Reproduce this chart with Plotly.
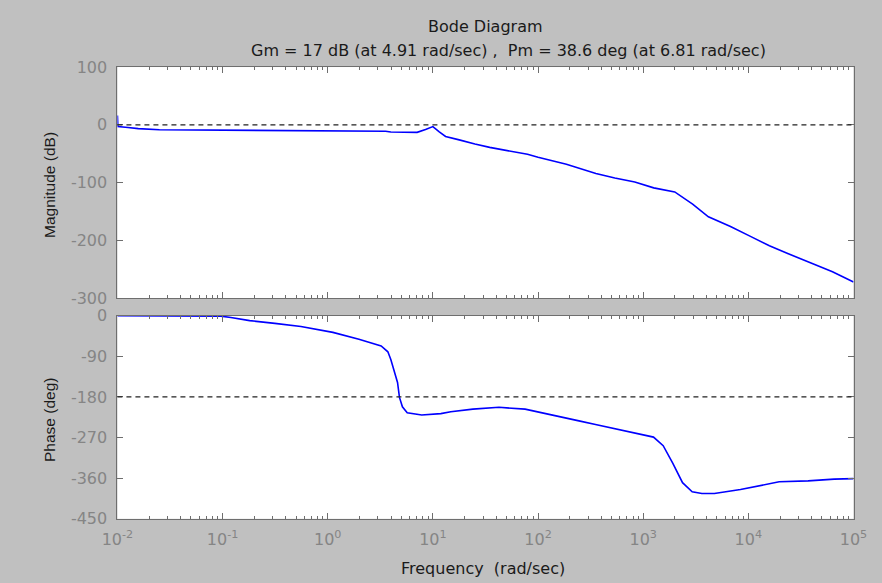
import plotly.graph_objects as go

W, H = 882, 583

# ---- data ----
mag_freq = [0.01, 0.0101, 0.0126, 0.0158, 0.0251, 0.1, 1.0, 3.55, 3.98, 7.08, 8.51, 10.0,
            11.5, 13.2, 17.8, 22.4, 25.1, 34.7, 52.5, 79.4, 100, 186, 355, 537, 832, 1259,
            1995, 2951, 4169, 6761, 10471, 15849, 23988, 37154, 63096, 100000]
mag_db = [16, -3, -4.5, -6.5, -8.5, -9, -9.5, -11, -12.5, -13, -8, -3,
          -12, -20, -26, -30, -33, -39, -44.5, -51, -56, -68, -84, -92, -99, -109,
          -116, -137, -159, -176, -193, -209, -223, -237, -254, -272]

ph_freq = [0.01, 0.096, 0.12, 0.181, 0.314, 0.556, 1.12, 1.98, 3.22, 3.73, 3.98, 4.61, 4.81,
           5.13, 5.70, 7.83, 11.9, 14.8, 24.0, 42.5, 75.3, 122, 245, 352, 708, 1253,
           1549, 1914, 2366, 2924, 3614, 4753, 8414, 19634, 36983, 65464, 100000]
ph_deg = [0, -1, -4, -11, -17, -24, -37, -52, -67, -80, -97, -148, -181,
          -202, -215, -220, -217, -213, -207, -203, -207, -217, -233, -241, -256, -269,
          -288, -327, -370, -390, -394, -394, -385, -368, -366, -362, -361]

x_tickvals = [1e-2, 1e-1, 1e0, 1e1, 1e2, 1e3, 1e4, 1e5]
x_ticktext = ["10<sup>-2</sup>", "10<sup>-1</sup>", "10<sup>0</sup>", "10<sup>1</sup>",
              "10<sup>2</sup>", "10<sup>3</sup>", "10<sup>4</sup>", "10<sup>5</sup>"]
mag_tickvals = [100, 0, -100, -200, -300]
mag_ticktext = ["100", "0", "-100", "-200", "-300"]
ph_tickvals = [0, -90, -180, -270, -360, -450]
ph_ticktext = ["0", "-90", "-180", "-270", "-360", "-450"]

title1 = "Bode Diagram"
title2 = "Gm = 17 dB (at 4.91 rad/sec) ,  Pm = 38.6 deg (at 6.81 rad/sec)"

def px(x):
    return x / W

def py(y):
    return (H - y) / H

minor_vals = [k * 10 ** e for e in range(-2, 5) for k in range(2, 10)]

tick_font = dict(family="DejaVu Sans", size=16, color="#858585")
line_col = "#6e6e6e"

common_x = dict(type="log", range=[-2, 5], domain=[px(105), px(867)],
                showgrid=False, zeroline=False, showline=True, linecolor=line_col,
                linewidth=1, mirror="allticks", ticks="inside", ticklen=6,
                tickcolor=line_col, tickvals=x_tickvals,
                minor=dict(ticks="inside", ticklen=3, tickcolor=line_col,
                           tickvals=minor_vals, showgrid=False))
common_y = dict(showgrid=False, zeroline=False, showline=True, linecolor=line_col,
                linewidth=1, mirror="allticks", ticks="inside", ticklen=6,
                tickcolor=line_col, tickfont=tick_font, ticklabelstandoff=6)

fig = go.Figure()
fig.add_trace(go.Scatter(x=mag_freq, y=mag_db, mode="lines",
                         line=dict(color="#0000ff", width=1.6),
                         xaxis="x", yaxis="y", showlegend=False))
fig.add_trace(go.Scatter(x=ph_freq, y=ph_deg, mode="lines",
                         line=dict(color="#0000ff", width=1.6),
                         xaxis="x2", yaxis="y2", showlegend=False))

fig.update_layout(
    width=W, height=H,
    margin=dict(l=0, r=0, t=0, b=0),
    paper_bgcolor="#c0c0c0",
    plot_bgcolor="#ffffff",
    showlegend=False,
    xaxis=dict(common_x, anchor="y", showticklabels=False),
    xaxis2=dict(common_x, anchor="y2", ticktext=x_ticktext, tickfont=tick_font,
                ticklabelstandoff=6),
    yaxis=dict(common_y, anchor="x", domain=[py(299), py(60)], range=[-300, 100],
               tickvals=mag_tickvals, ticktext=mag_ticktext),
    yaxis2=dict(common_y, anchor="x2", domain=[py(527), py(317)], range=[-450, 0],
                tickvals=ph_tickvals, ticktext=ph_ticktext),
)

dash_style = dict(color="#222222", width=1.2, dash="5px,4px")
fig.add_shape(type="line", xref="x domain", yref="y", x0=0, x1=1, y0=0, y1=0, line=dash_style)
fig.add_shape(type="line", xref="x2 domain", yref="y2", x0=0, x1=1, y0=-180, y1=-180, line=dash_style)

h_font = dict(family="DejaVu Sans", size=16, color="#1a1a1a")
v_font = dict(family="Liberation Sans, Arial", size=15.5, color="#1a1a1a")
fig.add_annotation(text=title1, x=px(486), y=py(18), xref="paper", yref="paper",
                   showarrow=False, font=h_font, xanchor="center", yanchor="middle")
fig.add_annotation(text=title2, x=px(510), y=py(43), xref="paper", yref="paper",
                   showarrow=False, font=h_font, xanchor="center", yanchor="middle")
fig.add_annotation(text="Magnitude (dB)", x=px(34), y=py(182), xref="paper", yref="paper",
                   showarrow=False, font=v_font, textangle=-90,
                   xanchor="center", yanchor="middle")
fig.add_annotation(text="Phase (deg)", x=px(34), y=py(425), xref="paper", yref="paper",
                   showarrow=False, font=v_font, textangle=-90,
                   xanchor="center", yanchor="middle")
fig.add_annotation(text="Frequency&nbsp; (rad/sec)", x=px(483), y=py(566), xref="paper",
                   yref="paper", showarrow=False, font=h_font, xanchor="center", yanchor="top")

fig.write_html("out.html")
